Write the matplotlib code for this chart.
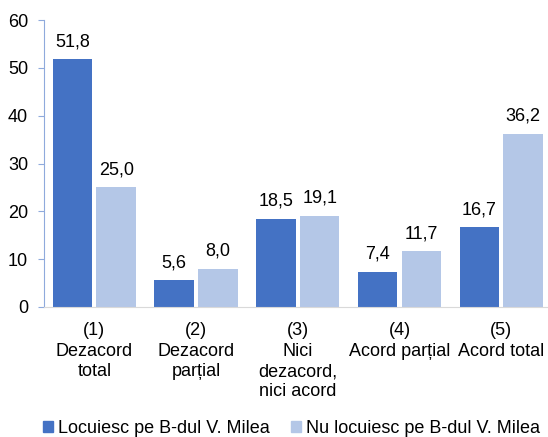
import matplotlib.pyplot as plt
import numpy as np
import matplotlib.patches as mpatches

plt.rcParams['font.family'] = ['Liberation Sans', 'DejaVu Sans']

# data
categories = ['(1)\nDezacord\ntotal', '(2)\nDezacord\nparțial', '(3)\nNici\ndezacord,\nnici acord',
              '(4)\nAcord parțial', '(5)\nAcord total']
locuiesc = [51.8, 5.6, 18.5, 7.4, 16.7]
nu_locuiesc = [25.0, 8.0, 19.1, 11.7, 36.2]
series_names = ['Locuiesc pe B-dul V. Milea', 'Nu locuiesc pe B-dul V. Milea']

c_dark = '#4472C4'
c_light = '#B4C7E7'
fs = 13

fig = plt.figure(figsize=(5.48, 4.37), dpi=100)
ax = fig.add_axes([0.0794, 0.2975, 0.9206, 0.6567])

x = np.arange(len(categories))
w = 0.39
off = 0.215
b1 = ax.bar(x - off, locuiesc, w, color=c_dark)
b2 = ax.bar(x + off, nu_locuiesc, w, color=c_light)

for bars, vals in [(b1, locuiesc), (b2, nu_locuiesc)]:
    for r, v in zip(bars, vals):
        ax.annotate(f'{v:.1f}'.replace('.', ','), (r.get_x() + r.get_width()/2, v),
                    xytext=(0, 12.5), textcoords='offset points',
                    ha='center', va='center', fontsize=fs)

ax.set_ylim(0, 60)
ax.set_xlim(-0.5, 4.46)
ax.set_yticks(range(0, 61, 10))
ax.tick_params(axis='y', labelsize=fs, length=4, color='#8FAADC', pad=7)
ax.set_xticks(x)
ax.set_xticklabels(categories, fontsize=fs, linespacing=1.26, va='top')
ax.tick_params(axis='x', length=0, pad=11)

for s in ['top', 'right']:
    ax.spines[s].set_visible(False)
ax.spines['left'].set_color('#8FAADC')
ax.spines['bottom'].set_color('#D9D9D9')

handles = [mpatches.Patch(color=c_dark, label=series_names[0]),
           mpatches.Patch(color=c_light, label=series_names[1])]
fig.legend(handles=handles, loc='center', bbox_to_anchor=(0.532, 0.019), ncol=2,
           frameon=False, fontsize=fs, handlelength=0.55, handleheight=0.55,
           handletextpad=0.25, columnspacing=1.2, borderpad=0, borderaxespad=0)

plt.savefig('out.png', dpi=100)
